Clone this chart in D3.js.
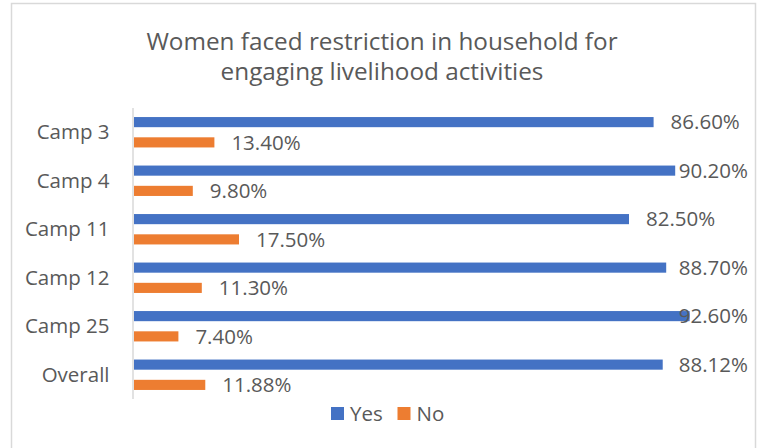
<!DOCTYPE html>
<html>
<head>
<meta charset="utf-8">
<script src="https://cdn.jsdelivr.net/npm/d3@7"></script>
<style>
  html, body { margin: 0; padding: 0; background: #fff; }
  svg { display: block; }
  text { font-family: "Open Sans", "Liberation Sans", sans-serif; fill: #595959; }
</style>
</head>
<body>
<svg id="chart" width="758" height="448"></svg>
<script>
// Chart data
const categories = ["Camp 3", "Camp 4", "Camp 11", "Camp 12", "Camp 25", "Overall"];
const series = ["Yes", "No"];
const yesValues = [86.60, 90.20, 82.50, 88.70, 92.60, 88.12];
const noValues = [13.40, 9.80, 17.50, 11.30, 7.40, 11.88];
const titleLines = ["Women faced restriction in household for", "engaging livelihood activities"];
const colors = { Yes: "#4472C4", No: "#ED7D31" };

const svg = d3.select("#chart");

// Outer chart frame
svg.append("rect")
  .attr("x", 11.5).attr("y", 3.5)
  .attr("width", 744).attr("height", 470)
  .attr("fill", "#fff")
  .attr("stroke", "#d9d9d9")
  .attr("stroke-width", 1.5);

// Title
svg.append("g").selectAll("text")
  .data(titleLines)
  .join("text")
  .attr("x", 382)
  .attr("y", (d, i) => 50 + i * 30)
  .attr("text-anchor", "middle")
  .style("font-size", "24.3px")
  .text(d => d);

// Plot area
const plot = { left: 134, right: 734, top: 108, bottom: 399 };

const x = d3.scaleLinear().domain([0, 100]).range([plot.left, plot.right]);
const y = d3.scaleBand()
  .domain(categories)
  .range([plot.top, plot.bottom])
  .paddingInner(0.373)
  .paddingOuter(0.1865);
const ySub = d3.scaleBand()
  .domain(series)
  .range([0, y.bandwidth()])
  .paddingInner(0.5)
  .paddingOuter(0);

const rows = categories.map((c, i) => ({
  category: c,
  values: [
    { key: "Yes", value: yesValues[i] },
    { key: "No", value: noValues[i] }
  ]
}));

// Category axis line
svg.append("line")
  .attr("x1", plot.left - 1).attr("x2", plot.left - 1)
  .attr("y1", plot.top).attr("y2", plot.bottom)
  .attr("stroke", "#d9d9d9")
  .attr("stroke-width", 1.5);

// Category labels
svg.append("g").selectAll("text")
  .data(categories)
  .join("text")
  .attr("x", 109.5)
  .attr("y", d => y(d) + y.bandwidth() / 2)
  .attr("dy", "0.35em")
  .attr("text-anchor", "end")
  .style("font-size", "20.5px")
  .text(d => d);

// Bars and value labels
const groups = svg.append("g").selectAll("g")
  .data(rows)
  .join("g")
  .attr("transform", d => `translate(0,${y(d.category)})`);

groups.selectAll("rect")
  .data(d => d.values)
  .join("rect")
  .attr("x", x(0))
  .attr("y", d => ySub(d.key))
  .attr("width", d => x(d.value) - x(0))
  .attr("height", ySub.bandwidth())
  .attr("fill", d => colors[d.key]);

const labelRightLimit = 748;
groups.selectAll("text")
  .data(d => d.values)
  .join("text")
  .attr("y", d => ySub(d.key) + ySub.bandwidth() / 2)
  .attr("dy", "0.35em")
  .style("font-size", "20.5px")
  .text(d => d.value.toFixed(2) + "%")
  .each(function(d) {
    const w = this.getComputedTextLength();
    let lx = x(d.value) + 17;
    if (lx + w > labelRightLimit) lx = labelRightLimit - w;
    d3.select(this).attr("x", lx);
  });

// Legend
const legend = svg.append("g").attr("transform", "translate(331,407)");
const legendItems = [
  { key: "Yes", dx: 0 },
  { key: "No", dx: 66.5 }
];
const li = legend.selectAll("g")
  .data(legendItems)
  .join("g")
  .attr("transform", d => `translate(${d.dx},0)`);
li.append("rect")
  .attr("width", 13).attr("height", 13)
  .attr("fill", d => colors[d.key]);
li.append("text")
  .attr("x", 19)
  .attr("y", 6.5)
  .attr("dy", "0.35em")
  .style("font-size", "20.5px")
  .text(d => d.key);
</script>
</body>
</html>
